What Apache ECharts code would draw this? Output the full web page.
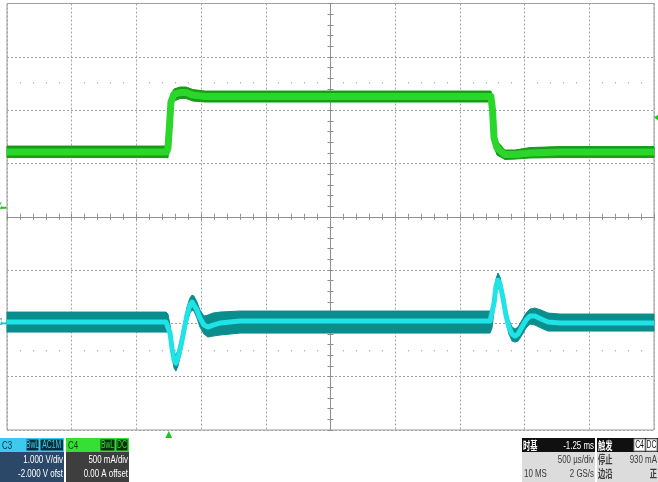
<!DOCTYPE html>
<html><head><meta charset="utf-8">
<script src="https://cdn.jsdelivr.net/npm/echarts@6/dist/echarts.min.js"></script>
<style>html,body{margin:0;padding:0;background:#fff}#c{width:658px;height:482px}</style>
</head><body><div id="c"></div>
<script>
// ---- time base (ms), centre of screen = 0 ----
const timeMin = -2.5, timeMax = 2.5, timePerDiv = 0.5;
const triggerTime = -1.25;          // ms
const triggerLevel = 0.93;          // A (C4)
// ---- channel scales ----
const c3VoltsPerDiv = 1.0, c3Offset = -2.0;   // V
const c4AmpsPerDiv = 0.5, c4Offset = 0.0;     // A
// ---- C3 (voltage, V) : centre of trace, upper / lower envelope ----
const c3Time   = [-2.5, -1.271, -1.256, -1.240, -1.225, -1.209, -1.194, -1.179, -1.155, -1.132, -1.109, -1.086, -1.070, -1.055, -1.032, -1.009, -0.978, -0.947, -0.908, -0.854, -0.699,
                  1.233, 1.248, 1.264, 1.279, 1.294, 1.310, 1.333, 1.356, 1.379, 1.403, 1.426, 1.449, 1.480, 1.511, 1.542, 1.580, 1.627, 1.681, 1.774, 2.5];
const c3Center = [0.025, 0.025, 0.006, -0.182, -0.463, -0.688, -0.744, -0.651, -0.407, -0.125, 0.156, 0.344, 0.400, 0.381, 0.250, 0.100, -0.032, -0.069, -0.032, 0.006, 0.043,
                  0.043, 0.062, 0.381, 0.700, 0.812, 0.738, 0.475, 0.156, -0.069, -0.201, -0.238, -0.201, -0.069, 0.062, 0.137, 0.137, 0.081, 0.025, 0.006, 0.006];
const c3Upper  = [0.212, 0.212, 0.175, -0.032, -0.313, -0.538, -0.594, -0.501, -0.257, 0.025, 0.306, 0.475, 0.531, 0.512, 0.400, 0.250, 0.137, 0.156, 0.194, 0.212, 0.231,
                  0.231, 0.212, 0.512, 0.831, 0.944, 0.869, 0.606, 0.287, 0.062, -0.069, -0.107, -0.069, 0.062, 0.194, 0.269, 0.287, 0.250, 0.194, 0.175, 0.175];
const c3Lower  = [-0.163, -0.163, -0.163, -0.332, -0.613, -0.838, -0.894, -0.801, -0.557, -0.276, 0.006, 0.194, 0.250, 0.231, 0.100, -0.069, -0.201, -0.257, -0.238, -0.219, -0.182,
                  -0.182, -0.088, 0.250, 0.569, 0.681, 0.606, 0.344, 0.025, -0.201, -0.332, -0.351, -0.332, -0.219, -0.088, -0.013, -0.032, -0.088, -0.144, -0.144, -0.144];
// ---- C4 (current, A) ----
const c4Time   = [-2.5, -1.267, -1.256, -1.244, -1.233, -1.209, -1.163, -1.117, -1.063, -0.970, -0.236, 1.240, 1.252, 1.264, 1.287, 1.348, 1.426, 1.541, 1.774, 2.5];
const c4Center = [0.607, 0.607, 0.644, 0.860, 1.076, 1.151, 1.165, 1.165, 1.141, 1.127, 1.127, 1.127, 1.001, 0.738, 0.644, 0.583, 0.583, 0.597, 0.607, 0.607];
const c4Upper  = [0.663, 0.663, 0.719, 0.954, 1.151, 1.198, 1.217, 1.217, 1.193, 1.179, 1.179, 1.179, 1.113, 0.832, 0.710, 0.626, 0.626, 0.649, 0.658, 0.658];
const c4Lower  = [0.555, 0.555, 0.551, 0.719, 1.001, 1.085, 1.109, 1.109, 1.085, 1.076, 1.076, 1.076, 0.860, 0.654, 0.579, 0.537, 0.541, 0.551, 0.555, 0.555];
// ---- info panel texts ----
const c3Texts = ['C3', 'BwL', 'AC1M', '1.000 V/div', '-2.000 V ofst'];
const c4Texts = ['C4', 'BwL', 'DC', '500 mA/div', '0.00 A offset'];
const tbTexts = ['时基', '-1.25 ms', '500 µs/div', '10 MS', '2 GS/s'];
const trTexts = ['触发', 'C4', 'DC', '停止', '930 mA', '边沿', '正'];

const GRID_GRAY = '#a3a3a3';
const C3_DARK = '#0a8d8d', C3_BRIGHT = '#1fe3e6';
const C4_DARK = '#189c18', C4_BRIGHT = '#2bd62b';

function zip(a, b) { return a.map((v, i) => [v, b[i]]); }

function band(t, up, lo, yIdx, color) {
  return {
    type: 'custom', xAxisIndex: 0, yAxisIndex: yIdx, silent: true, animation: false,
    data: [[t[0], up[0]]],
    renderItem: function (params, api) {
      const pts = [];
      for (let i = 0; i < t.length; i++) pts.push(api.coord([t[i], up[i]]));
      for (let i = t.length - 1; i >= 0; i--) pts.push(api.coord([t[i], lo[i]]));
      return { type: 'polygon', shape: { points: pts }, style: { fill: color, stroke: color, lineWidth: 1 } };
    }
  };
}

const narrow = 0.72;
function txt(x, y, s, fill, align, size, cjk, bold) {
  return { type: 'text', x: x, y: y, scaleX: cjk ? 0.66 : narrow, z: 10,
    style: { text: s, fill: fill, align: align || 'left', verticalAlign: 'middle',
      font: (bold ? 'bold ' : '') + (size || 11) + 'px ' + (cjk ? '"Noto Sans CJK SC"' : '"Liberation Sans"') } };
}
function rect(x, y, w, h, fill, stroke) {
  return { type: 'rect', z: 9, shape: { x: x, y: y, width: w, height: h },
    style: { fill: fill, stroke: stroke || null, lineWidth: stroke ? 1 : 0 } };
}
function badge(x, y, w, label, bg, fg, border) {
  return [rect(x, y, w, 12, bg, border), { type: 'text', x: x + w / 2, y: y + 6.5, scaleX: 0.68, z: 11,
    style: { text: label, fill: fg, align: 'center', verticalAlign: 'middle', font: '10px "Liberation Sans"' } }];
}

const graphics = [].concat(
  // C3 panel
  [rect(0, 438, 64, 14, '#3ccaee'), rect(0, 452, 64, 30, '#2b4868'),
   txt(2, 445.5, c3Texts[0], '#0b2b48', 'left', 11)],
  badge(26, 439, 13, c3Texts[1], '#072f3b', '#3ccaee', '#3ccaee'),
  badge(40, 439, 23.5, c3Texts[2], '#072f3b', '#3ccaee', '#3ccaee'),
  [txt(63, 460, c3Texts[3], '#ffffff', 'right', 11), txt(63, 474, c3Texts[4], '#ffffff', 'right', 11)],
  // C4 panel
  [rect(66, 438, 63, 14, '#36de36'), rect(66, 452, 63, 30, '#3e3e3e'),
   txt(68, 445.5, c4Texts[0], '#0a3a0a', 'left', 11)],
  badge(100, 439, 15, c4Texts[1], '#0b2f0b', '#36de36', '#36de36'),
  badge(116, 439, 12, c4Texts[2], '#0b2f0b', '#36de36', '#36de36'),
  [txt(128, 460, c4Texts[3], '#ffffff', 'right', 11), txt(128, 474, c4Texts[4], '#ffffff', 'right', 11)],
  // timebase panel
  [rect(522, 438, 73, 14, '#101010'), rect(522, 452, 73, 30, '#dcdcdc'),
   txt(523, 445.5, tbTexts[0], '#ffffff', 'left', 11, true, true),
   txt(594, 445.5, tbTexts[1], '#ffffff', 'right', 11),
   txt(594, 460, tbTexts[2], '#3a3a3a', 'right', 11),
   txt(524, 474, tbTexts[3], '#3a3a3a', 'left', 11),
   txt(594, 474, tbTexts[4], '#3a3a3a', 'right', 11)],
  // trigger panel
  [rect(597, 438, 61, 14, '#101010'), rect(597, 452, 61, 30, '#dcdcdc'),
   txt(598, 445.5, trTexts[0], '#ffffff', 'left', 11, true, true)],
  badge(634, 439, 11, trTexts[1], '#ffffff', '#111111', '#888888'),
  badge(646, 439, 11, trTexts[2], '#ffffff', '#111111', '#888888'),
  [txt(598, 460, trTexts[3], '#3a3a3a', 'left', 11, true, true),
   txt(657, 460, trTexts[4], '#3a3a3a', 'right', 11),
   txt(598, 474, trTexts[5], '#3a3a3a', 'left', 11, true, true),
   txt(657, 474, trTexts[6], '#3a3a3a', 'right', 11, true, true)]
);

const tickStyle = { color: '#8f8f8f', width: 1 };
const baseX = { type: 'value', min: timeMin, max: timeMax, interval: timePerDiv,
  axisLabel: { show: false }, splitLine: { show: false } };
const baseY = { type: 'value', min: -4, max: 4, interval: 1,
  axisLabel: { show: false }, splitLine: { show: false } };

const option = {
  animation: false,
  backgroundColor: '#ffffff',
  grid: { left: 7, top: 3.5, width: 647, height: 426.5, show: true, borderColor: '#9c9c9c', borderWidth: 1,
    backgroundColor: '#ffffff', outerBoundsMode: 'none', containLabel: false },
  xAxis: [
    Object.assign({}, baseX, { position: 'bottom',
      axisLine: { show: true, onZero: true, onZeroAxisIndex: 0, lineStyle: tickStyle },
      axisTick: { show: true, inside: true, length: 3, lineStyle: tickStyle },
      minorTick: { show: true, splitNumber: 5, length: 3, lineStyle: tickStyle },
      splitLine: { show: true, lineStyle: { color: GRID_GRAY, width: 1, type: [2, 2] } } }),
    Object.assign({}, baseX, { position: 'bottom',
      axisLine: { show: true, onZero: true, onZeroAxisIndex: 0, lineStyle: tickStyle },
      axisTick: { show: true, inside: false, length: 3, lineStyle: tickStyle },
      minorTick: { show: true, splitNumber: 5, length: 3, lineStyle: tickStyle } }),
    Object.assign({}, baseX, { position: 'top', offset: -80,
      axisLine: { show: false, onZero: false }, axisTick: { show: false },
      minorTick: { show: true, splitNumber: 5, length: 1.5, lineStyle: { color: '#b8b8b8', width: 1.2 } } }),
    Object.assign({}, baseX, { position: 'bottom', offset: -80,
      axisLine: { show: false, onZero: false }, axisTick: { show: false },
      minorTick: { show: true, splitNumber: 5, length: 1.5, lineStyle: { color: '#b8b8b8', width: 1.2 } } })
  ],
  yAxis: [
    Object.assign({}, baseY, { position: 'left',
      axisLine: { show: true, onZero: true, onZeroAxisIndex: 0, lineStyle: tickStyle },
      axisTick: { show: true, inside: true, length: 3, lineStyle: tickStyle },
      minorTick: { show: true, splitNumber: 5, length: 3, lineStyle: tickStyle },
      splitLine: { show: true, lineStyle: { color: GRID_GRAY, width: 1, type: [2, 2] } } }),
    Object.assign({}, baseY, { position: 'left',
      axisLine: { show: true, onZero: true, onZeroAxisIndex: 0, lineStyle: tickStyle },
      axisTick: { show: true, inside: false, length: 3, lineStyle: tickStyle },
      minorTick: { show: true, splitNumber: 5, length: 3, lineStyle: tickStyle } }),
    { type: 'value', show: false, min: -4 * c3VoltsPerDiv - c3Offset, max: 4 * c3VoltsPerDiv - c3Offset },
    { type: 'value', show: false, min: -4 * c4AmpsPerDiv - c4Offset, max: 4 * c4AmpsPerDiv - c4Offset }
  ],
  series: [
    band(c4Time, c4Upper, c4Lower, 3, C4_DARK),
    { type: 'line', name: 'C4', xAxisIndex: 0, yAxisIndex: 3, data: zip(c4Time, c4Center),
      showSymbol: false, silent: true, lineStyle: { color: C4_BRIGHT, width: 7, join: 'round' }, itemStyle: { color: C4_BRIGHT },
      markPoint: { silent: true, animation: false, label: { show: false }, data: [
        { coord: [triggerTime, -4 * c4AmpsPerDiv - c4Offset], symbol: 'triangle', symbolSize: [7, 7], symbolOffset: [0, 4.5], itemStyle: { color: '#22c422' } },
        { coord: [timeMax, triggerLevel], symbol: 'triangle', symbolSize: [7, 5], symbolRotate: 90, symbolOffset: [2.5, 0], itemStyle: { color: '#22c422' } },
        { coord: [timeMin, c4Offset], symbol: 'rect', symbolSize: [6, 2], symbolOffset: [-3.5, -9], itemStyle: { color: '#22c422' },
          label: { show: true, formatter: 'C4', position: 'top', distance: 1, rotate: 90, fontSize: 6, color: '#22a022' } }
      ] } },
    band(c3Time, c3Upper, c3Lower, 2, C3_DARK),
    { type: 'line', name: 'C3', xAxisIndex: 0, yAxisIndex: 2, data: zip(c3Time, c3Center),
      showSymbol: false, silent: true, lineStyle: { color: C3_BRIGHT, width: 5, join: 'round' }, itemStyle: { color: C3_BRIGHT },
      markPoint: { silent: true, animation: false, label: { show: false }, data: [
        { coord: [timeMin, 0], symbol: 'rect', symbolSize: [6, 2], symbolOffset: [-3.5, 0], itemStyle: { color: '#19c9d0' },
          label: { show: true, formatter: 'C3', position: 'top', distance: 1, rotate: 90, fontSize: 6, color: '#178f95' } }
      ] } }
  ],
  graphic: graphics
};

const chart = echarts.init(document.getElementById('c'), null, { renderer: 'canvas' });
chart.setOption(option);
</script>
</body></html>
